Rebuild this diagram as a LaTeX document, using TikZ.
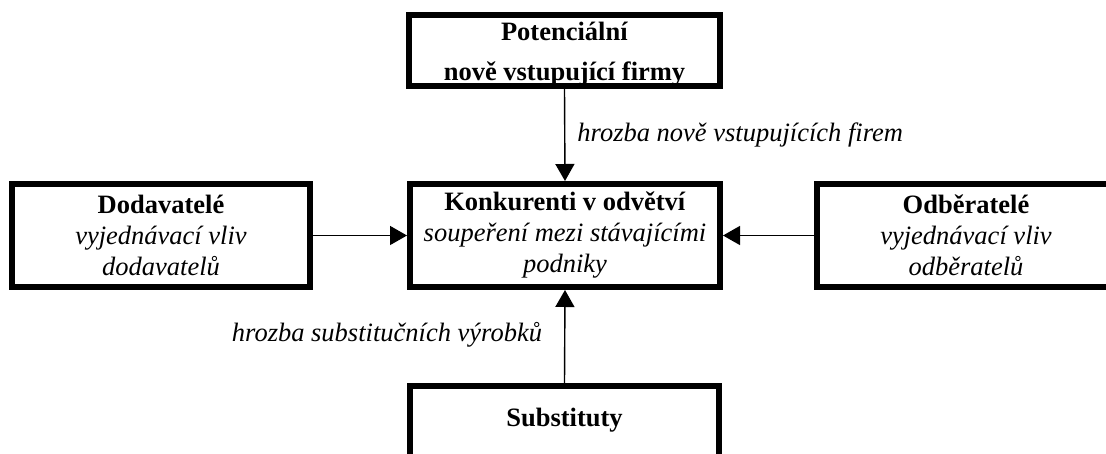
\documentclass[tikz,border=0pt]{standalone}
\usepackage{fontspec}
\setmainfont{Liberation Serif}
\usetikzlibrary{arrows.meta}
\begin{document}
\begin{tikzpicture}[x=1pt,y=1pt,
  box/.style={draw, line width=6pt, align=center, inner sep=0pt,
    font=\fontsize{26.5}{31}\selectfont},
  conn/.style={line width=1.4pt, -{Triangle[length=17pt,width=19pt]}},
  lab/.style={inner sep=0pt, font=\fontsize{26.5}{31}\selectfont\itshape}]
\useasboundingbox[fill=white] (0,0) rectangle (1106,-454);
\node[box, minimum width=311pt, minimum height=71pt] (top) at (564.5,-50.5)
  {\raisebox{-4pt}[\height][\depth]{\begin{tabular}{@{}c@{}}\textbf{Potenciální}\\[9pt]\textbf{nově vstupující firmy}\end{tabular}}};
\node[box, minimum width=310pt, minimum height=103pt] (kon) at (565,-235.5)
  {\textbf{Konkurenti v odvětví}\\\textit{soupeření mezi stávajícími}\\\textit{podniky}};
\node[box, minimum width=298pt, minimum height=103pt] (dod) at (161,-235.5)
  {\textbf{Dodavatelé}\\\textit{vyjednávací vliv}\\\textit{dodavatelů}};
\node[box, minimum width=298pt, minimum height=103pt] (odb) at (966,-235.5)
  {\textbf{Odběratelé}\\\textit{vyjednávací vliv}\\\textit{odběratelů}};
\node[box, anchor=north, minimum width=309pt, minimum height=80pt] (sub) at (564.5,-383)
  {\raisebox{6pt}[\height][\depth]{\textbf{Substituty}}};
\draw[conn] (top.south) -- node[lab, anchor=west, xshift=12pt] {hrozba nově vstupujících firem} (kon.north);
\draw[conn] (sub.north) -- node[lab, anchor=east, xshift=-22pt, yshift=2pt] {hrozba substitučních výrobků} (kon.south);
\draw[conn] (dod.east) -- (kon.west);
\draw[conn] (odb.west) -- (kon.east);
\end{tikzpicture}
\end{document}
